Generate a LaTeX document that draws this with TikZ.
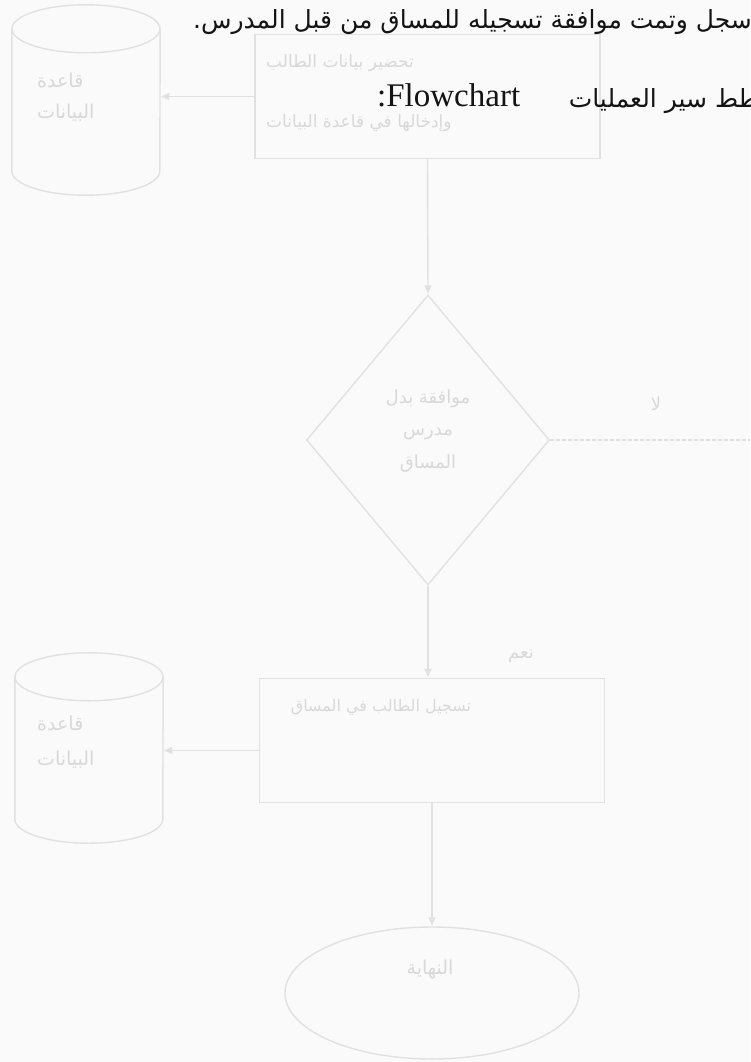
\documentclass[tikz,border=0pt]{standalone}
\usepackage{fontspec}
\setmainfont{Liberation Serif}
\newfontfamily\arabicfont[Script=Arabic]{DejaVu Sans}
\TeXXeTstate=1
\usetikzlibrary{shapes.geometric,arrows.meta,calc}

\definecolor{paper}{HTML}{FAFAFA}
\definecolor{ghost}{HTML}{E1E1E1}
\definecolor{ghosttext}{HTML}{D8D8D8}
\definecolor{ink}{HTML}{141414}

\newcommand{\artext}[1]{{\arabicfont\beginR #1\endR}}
\newcommand{\fsz}[1]{\fontsize{#1}{#1}\selectfont}

\begin{document}
\begin{tikzpicture}[x=1pt,y=-1pt,
  faint/.style={draw=ghost, line width=1.4pt},
  conn/.style={draw=ghost, line width=1.4pt, -{Latex[length=9pt,width=8pt]}},
  procbox/.style={faint, rectangle, minimum width=345pt, minimum height=124pt, inner sep=0pt},
  dbshape/.style={rectangle, minimum width=148pt, minimum height=190pt, inner sep=0pt},
  ghostlabel/.style={text=ghosttext, font=\fsz{16}, align=center, inner sep=0pt},
  headar/.style={text=ink, font=\fsz{25}, inner sep=0pt},
  headlat/.style={text=ink, font=\fsz{33}, inner sep=0pt}]

\fill[paper] (0,0) rectangle (750,1062);
\useasboundingbox (0,0) rectangle (750,1062);

% --- database cylinders (outline drawn around an empty frame node) ---
\node[dbshape] (db1) at (86,100) {};
\node[dbshape] (db2) at (89,748) {};
\foreach \db in {db1,db2}{
  \draw[faint] ($(\db.north west)+(0,24)$) -- ($(\db.south west)+(0,-24)$)
    arc[start angle=180, end angle=360, x radius=74pt, y radius=24pt]
    -- ($(\db.north east)+(0,24)$);
  \draw[faint] ($(\db.north)+(0,24)$) ellipse[x radius=74pt, y radius=24pt];
}
\node[ghostlabel, font=\fsz{19}, align=left, anchor=west] (db1t) at (37,97)
  {\artext{قاعدة}\\[12pt]\artext{البيانات}};
\node[ghostlabel, font=\fsz{19}, align=left, anchor=west] (db2t) at (37,742)
  {\artext{قاعدة}\\[16pt]\artext{البيانات}};

% --- process boxes ---
\node[procbox] (box1) at (427.5,96.5) {};
\node[ghostlabel, font=\fsz{17}, anchor=west] (box1a) at (266,63) {\artext{تحضير بيانات الطالب}};
\node[ghostlabel, font=\fsz{17}, anchor=west] (box1b) at (266,123) {\artext{وإدخالها في قاعدة البيانات}};

\node[procbox] (box2) at (432,740.5) {};
\node[ghostlabel] (box2t) at (381,707) {\artext{تسجيل الطالب في المساق}};

% --- decision ---
\node[faint, diamond, minimum width=243pt, minimum height=290pt, inner sep=0pt] (dec) at (428,440) {};
\node[ghostlabel, font=\fsz{18}] (dect) at (428,431)
  {\artext{موافقة بدل}\\[14pt]\artext{مدرس}\\[14pt]\artext{المساق}};

% --- terminator ---
\node[faint, ellipse, minimum width=294pt, minimum height=132pt, inner sep=0pt] (fin) at (432,993) {};
\node[ghostlabel, font=\fsz{19}] (fint) at (430,970) {\artext{النهاية}};

% --- connectors ---
\draw[conn] (box1.west) -- (box1.west -| db1.east);
\draw[conn] (box1.south) -- (dec.north);
\coordinate (offpage) at (750,440);
\draw[faint, dash pattern=on 4pt off 2pt] (dec.east) -- (offpage);
\node[ghostlabel, font=\fsz{18}] (nolbl) at (656,404) {\artext{لا}};
\draw[conn] (dec.south) -- (dec.south |- box2.north);
\node[ghostlabel, font=\fsz{18}] (yeslbl) at (521,656) {\artext{نعم}};
\coordinate (b2w) at ($(box2.west)+(0,10)$);
\draw[conn] (b2w) -- (b2w -| db2.east);
\draw[conn] (box2.south) -- (fin.north);

% --- heading text, running off the right margin ---
\begin{scope}
\clip (0,0) rectangle (750,1062);
\node[headar, anchor=east] (h1) at (752,22) {\artext{سجل وتمت موافقة تسجيله للمساق من قبل المدرس.}};
\node[headar, anchor=east] (h2) at (789,101) {\artext{مخطط سير العمليات}};
\end{scope}
\node[headlat, anchor=west] (h3) at (377,95) {:Flowchart};
\end{tikzpicture}
\end{document}
